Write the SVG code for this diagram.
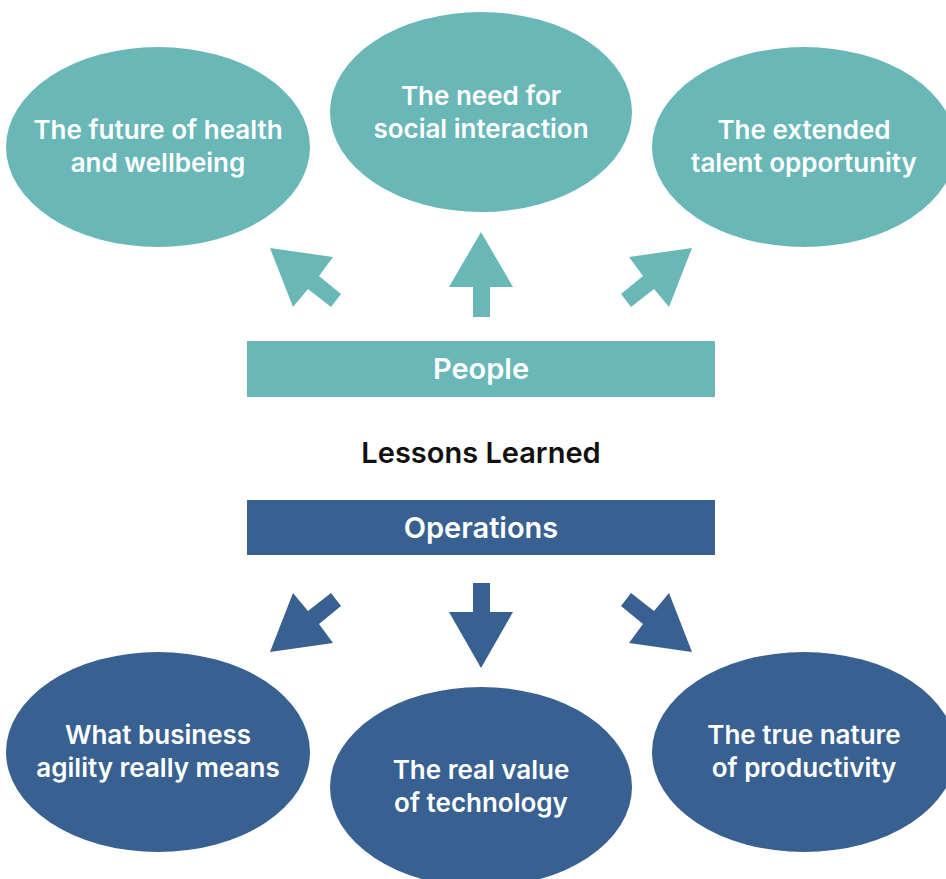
<svg xmlns="http://www.w3.org/2000/svg" width="946" height="879" viewBox="0 0 946 879">
<style>
.t{fill:#69b8b7}
.b{fill:#386192}
text{font-family:Inter,"Liberation Sans",sans-serif;font-weight:600;font-size:26px;text-anchor:middle}
.c{font-size:29px}
.w{fill:#fff}
.k{fill:#111}
</style>
<rect width="946" height="879" fill="#fff"/>
<g id="connectors">
<polygon class="t" points="270,248 333,257 319,276 341,294 331,307 308,289 293,307"/>
<polygon class="t" points="481,232 513,287 490,287 490,317 473,317 473,287 449,287"/>
<polygon class="t" points="692,248 629,257 643,276 621,294 631,307 654,289 669,307"/>
<polygon class="b" points="270,652 333,643 319,624 341,606 331,593 308,611 293,593"/>
<polygon class="b" points="481,668 513,612 490,612 490,583 473,583 473,612 449,612"/>
<polygon class="b" points="692,652 629,643 643,624 621,606 631,593 654,611 669,593"/>
</g>
<g id="n-health"><ellipse class="t" cx="158" cy="147" rx="152" ry="100"/><text class="w" x="158" y="139">The future of health</text><text class="w" x="158" y="172">and wellbeing</text></g>
<g id="n-social"><ellipse class="t" cx="481" cy="112" rx="151" ry="100"/><text class="w" x="481" y="105">The need for</text><text class="w" x="481" y="138">social interaction</text></g>
<g id="n-talent"><ellipse class="t" cx="804" cy="147" rx="152" ry="100"/><text class="w" x="804" y="139">The extended</text><text class="w" x="804" y="172">talent opportunity</text></g>
<g id="n-people"><rect class="t" x="247" y="341" width="468" height="56"/><text class="w c" x="481" y="379">People</text></g>
<g id="n-lessons"><text class="k c" x="481" y="463">Lessons Learned</text></g>
<g id="n-operations"><rect class="b" x="247" y="500" width="468" height="55"/><text class="w c" x="481" y="538">Operations</text></g>
<g id="n-agility"><ellipse class="b" cx="158" cy="752" rx="152" ry="100"/><text class="w" x="158" y="744">What business</text><text class="w" x="158" y="777">agility really means</text></g>
<g id="n-tech"><ellipse class="b" cx="481" cy="787" rx="151" ry="100"/><text class="w" x="481" y="779">The real value</text><text class="w" x="481" y="812">of technology</text></g>
<g id="n-productivity"><ellipse class="b" cx="804" cy="752" rx="152" ry="100"/><text class="w" x="804" y="744">The true nature</text><text class="w" x="804" y="777">of productivity</text></g>
</svg>
